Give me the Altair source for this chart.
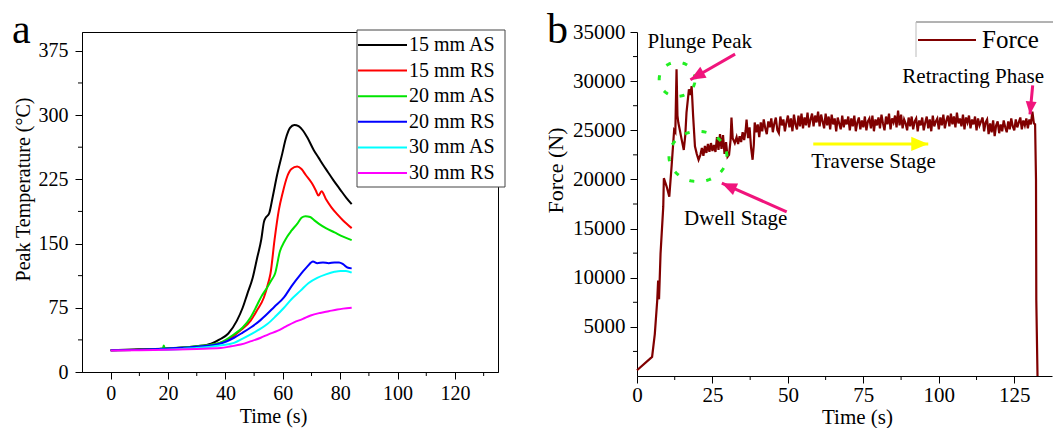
import math
import numpy as np
import pandas as pd
import altair as alt

FONT = "Liberation Serif"

# ---------------- Panel a : peak temperature ----------------
series_names = ["15 mm AS", "15 mm RS", "20 mm AS", "20 mm RS", "30 mm AS", "30 mm RS"]
series_colors = ["#000000", "#ff0000", "#00e400", "#0000ff", "#00ffff", "#ff00ff"]

t_15as = [0, 10, 20, 30, 35, 38, 41, 44, 46, 47.6, 49.5, 51.1, 52.5, 53.4, 54, 55.2, 56.5, 58, 59.8, 61,
          62.5, 64, 65.5, 67, 68.5, 70.8, 72.5, 74, 75.8, 77.6, 80, 82, 84]
T_15as = [25.5, 26.5, 27.5, 30, 33, 38, 45, 60, 75, 91, 110, 134, 155, 175, 180, 185, 205, 230, 255, 272,
          285, 288.5, 287, 282, 274, 259, 250, 242, 233, 224, 213, 204, 196]

t_15rs = [0, 10, 20, 30, 38, 42, 45, 48.8, 51, 53.4, 55, 55.7, 57.1, 58.6, 60, 61.5, 63, 65, 66.5, 68,
          70.2, 71.5, 72.4, 73.5, 75, 77, 79, 81, 84]
T_15rs = [25.5, 26, 27.5, 29.5, 34, 40, 48, 60, 72, 87, 105, 115, 154, 189, 210, 228, 237, 240, 237, 230,
          220, 212, 206, 211, 202, 192, 184, 177, 168]

t_20as = [0, 10, 18.2, 18.5, 18.8, 25, 30, 38, 43, 46, 48.8, 51, 52.5, 54.6, 56, 57.3, 59, 60.5, 61.5, 63,
          65, 66.5, 67.9, 69.5, 71, 72.6, 75, 78, 81, 84]
T_20as = [25.5, 26, 27.5, 31, 27.8, 28.5, 30, 34, 44, 52, 64, 78, 88, 99, 107, 115, 141, 152, 158, 165,
          173, 180, 182, 181, 177, 173, 168, 163, 158, 154]

t_20rs = [0, 10, 20, 30, 38, 43, 46, 48.8, 52, 54.6, 57, 60.4, 63, 66.2, 68.5, 70.5, 72, 74, 76, 78,
          79.6, 81, 82.5, 84]
T_20rs = [25.5, 26, 27.5, 29.5, 33, 40, 46, 52, 60, 68, 76, 87, 100, 114, 123, 129, 127, 128, 127, 128,
          128, 126, 122, 121]

t_30as = [17, 25, 30, 38, 43, 46, 48.8, 52, 54.6, 57.5, 60.4, 63, 66.2, 69, 72, 75, 78, 80.1, 82, 84]
T_30as = [26, 27, 28, 31, 34, 39, 44, 50, 56, 65, 75, 85, 95, 104, 110, 114, 117, 118, 118, 116]

t_30rs = [0, 10, 20, 30, 38.3, 42, 45.3, 49, 52.3, 55, 58.1, 61, 63.9, 67, 69.7, 73, 76, 79, 81, 84]
T_30rs = [25, 25.5, 26, 27, 28, 30, 32, 36, 40, 44, 48, 53, 58, 62, 66, 69, 71, 73, 74, 75]

left_x_major = [0, 20, 40, 60, 80, 100, 120]
left_x_minor = [10, 30, 50, 70, 90, 110, 130]
left_y_major = [0, 75, 150, 225, 300, 375]
left_y_minor = [37.5, 112.5, 187.5, 262.5, 337.5]

# ---------------- Panel b : force ----------------
force_t_head = [0, 5, 5.9, 6.7, 7.0, 7.3, 7.8, 8.7, 8.9, 9.8,
                10.7, 11.5, 12.0, 12.3, 12.7, 13.1, 13.4, 13.7, 14.2, 14.8,
                15.5, 16.0, 16.4, 17.2, 17.7, 18.1, 18.6, 19.2, 19.8, 20.4,
                21, 21.5, 22, 22.5, 23, 23.5, 24, 24.5, 25, 25.5,
                26, 26.5, 27, 27.5, 28, 28.5, 29, 29.5, 30, 30.5,
                31.0, 31.3, 31.7, 32.4, 33, 33.5, 34, 34.5, 35, 35.5,
                36, 36.3, 36.8, 37.3, 37.8, 38.3, 38.7, 39.0, 39.5, 40]
force_F_head = [580, 1950, 4270, 7680, 9700, 7800, 12450, 17230, 20130, 19300,
                18250, 21500, 23700, 25000, 24800, 31200, 26500, 25760, 25000, 24050,
                23000, 24500, 26800, 29170, 28600, 29500, 26440, 23370, 22600, 22000,
                22500, 23200, 22400, 23400, 22700, 23600, 22800, 23700, 22900, 23500,
                22800, 24300, 23000, 24600, 23100, 24500, 22600, 23800, 22300, 22500,
                24000, 26300, 24200, 23700, 24300, 23600, 24400, 23800, 24800, 24000,
                25000, 26100, 24200, 25300, 23200, 22000, 23500, 25800, 24800, 25600]
# traverse stage, read every 0.5 s starting at 40.5 s
force_F_traverse = [
    24300, 25800, 24900, 26100, 25200, 24600, 25900, 25300, 26200, 24800,
    25700, 26300, 25000, 24700, 26400, 25500, 26100, 24900, 25800, 26500,
    25300, 26200, 24900, 26600, 25600, 25100, 26500, 25400, 26700, 25200,
    26300, 25500, 26800, 25300, 26100, 26700, 25400, 26500, 25800, 26900,
    25400, 26600, 25900, 25200, 26700, 25500, 26400, 25100, 26600, 25600,
    26200, 24900, 26300, 25700, 25100, 26500, 25300, 26100, 25600, 26400,
    25000, 26200, 25400, 26500, 24900, 25800, 26300, 25100, 26000, 25300,
    26400, 25000, 25900, 26200, 25200, 26500, 24900, 26100, 25500, 26300,
    25200, 26600, 25700, 25000, 26400, 25600, 26700, 25100, 26200, 25800,
    26500, 25300, 27000, 25500, 26600, 25200, 26100, 25700, 25000, 26300,
    25400, 26400, 25100, 25900, 26200, 24900, 26000, 25500, 26300, 25000,
    25800, 26400, 25200, 26100, 24900, 26500, 25400, 25900, 26200, 25100,
    26300, 25500, 26600, 25200, 26000, 26500, 25400, 26700, 25600, 26400,
    25300, 26800, 25700, 26200, 25400, 26600, 25100, 26300, 25800, 26500,
    25200, 26100, 25600, 26400, 25000, 26200, 25500, 25900, 26300, 24900,
    25800, 26100, 24600, 25700, 24800, 26000, 24400, 25500, 25900, 24700,
    25600, 24900, 26000, 25300, 24800, 25900, 25100, 26200, 25400, 25000,
    26100, 25300, 25800, 26300, 25100, 26000, 25500, 26200, 25200, 26100,
    25600, 26900, 25700]
force_t_tail = [131.9, 132.2, 132.3, 132.7]
force_F_tail = [25600, 19960, 7700, 0]

right_x_major = [0, 25, 50, 75, 100, 125]
right_x_minor = [12.5, 37.5, 62.5, 87.5, 112.5]
right_y_major = [5000, 10000, 15000, 20000, 25000, 30000, 35000]
right_y_minor = [2500, 7500, 12500, 17500, 22500, 27500, 32500]

annot_text = ["Plunge Peak", "Dwell Stage", "Traverse Stage", "Retracting Phase"]
annot_t = [20.8, 32.7, 78.4, 111.4]
annot_F = [33980, 15965, 21800, 30430]

arrow_start_t = [32.5, 49.6, 58.4, 131.1]
arrow_start_F = [32750, 16710, 23610, 29580]
arrow_tip_t = [17.7, 28.1, 96.5, 130.2]
arrow_tip_F = [30140, 19620, 23610, 26610]
arrow_color = ["#f0147c", "#f0147c", "#ffff00", "#f0147c"]
arrow_head_len = [15, 15, 17, 13]

ellipse_center_t = [13.3, 20.2]
ellipse_center_F = [30190, 22340]
ellipse_radius_t = [5.95, 9.6]
ellipse_radius_F = [1740, 2560]

panel_labels = ["a", "b"]

# ---------------- sizes ----------------
LW, LH = 416, 340
RW, RH = 415, 344
LX = [-10, 135]
LY = [0, 397]
RX = [0, 137.5]
RY = [0, 35000]
MINOR = 4

# ================= left panel =================
rows = []
for name, ts, vs in zip(series_names,
                        [t_15as, t_15rs, t_20as, t_20rs, t_30as, t_30rs],
                        [T_15as, T_15rs, T_20as, T_20rs, T_30as, T_30rs]):
    for a, b in zip(ts, vs):
        rows.append({"series": name, "t": a, "T": b})
temp_df = pd.DataFrame(rows)

xL = alt.X("t:Q", scale=alt.Scale(domain=LX, nice=False, zero=False),
           axis=alt.Axis(values=left_x_major, format="d", tickSize=7,
                         labelPadding=4, labelOverlap=False, labelFlush=False, labelFontSize=20,
                         title="Time (s)", titleFontSize=20, titleX=191, titleY=50,
                         titleBaseline="alphabetic", titleAlign="center"))
yL = alt.Y("T:Q", scale=alt.Scale(domain=LY, nice=False, zero=False),
           axis=alt.Axis(values=left_y_major, format="d", tickSize=7,
                         labelPadding=7, labelOverlap=False, labelFlush=False, labelFontSize=20,
                         title="Peak Temperature (°C)", titleFontSize=20, titleX=-59, titleY=157,
                         titleAngle=270, titleBaseline="middle", titleAlign="center"))

temp_lines = alt.Chart(temp_df).mark_line(interpolate="monotone", strokeWidth=2).encode(
    x=xL, y=yL,
    color=alt.Color("series:N", scale=alt.Scale(domain=series_names, range=series_colors), legend=None),
)

lx_minor = alt.Chart(pd.DataFrame({"t": left_x_minor})).mark_rule(color="black", strokeWidth=1).encode(
    x=xL, y=alt.value(LH), y2=alt.value(LH + MINOR))
ly_minor = alt.Chart(pd.DataFrame({"T": left_y_minor})).mark_rule(color="black", strokeWidth=1).encode(
    y=yL, x=alt.value(0), x2=alt.value(-MINOR))

legend_box = alt.Chart(alt.Data(values=[{}])).mark_rect(fill="white", stroke="#444", strokeWidth=1).encode(
    x=alt.value(275), x2=alt.value(423), y=alt.value(-2), y2=alt.value(155))

leg_df = pd.DataFrame({"name": series_names, "color": series_colors,
                       "ly": [13 + 25.6 * i for i in range(len(series_names))]})
legend_rules = alt.Chart(leg_df).mark_rule(strokeWidth=2).encode(
    x=alt.value(276), x2=alt.value(325), y=alt.Y("ly:Q", scale=None),
    color=alt.Color("color:N", scale=None))
legend_text = alt.Chart(leg_df).mark_text(font=FONT, fontSize=20, align="left", baseline="middle",
                                          color="black").encode(
    x=alt.value(327), y=alt.Y("ly:Q", scale=None), text="name:N")

a_label = alt.Chart(pd.DataFrame({"label": [panel_labels[0]]})).mark_text(
    font=FONT, fontSize=42, align="left", baseline="alphabetic", color="black").encode(
    x=alt.value(-70), y=alt.value(11), text="label:N")

left = alt.layer(temp_lines, lx_minor, ly_minor, legend_box, legend_rules, legend_text, a_label).properties(
    width=LW, height=LH, view=alt.ViewBackground(stroke="black", strokeWidth=1))

# ================= right panel =================
trav_t = [40.5 + 0.5 * i for i in range(len(force_F_traverse))]
force_df = pd.DataFrame({"t": force_t_head + trav_t + force_t_tail,
                         "F": force_F_head + force_F_traverse + force_F_tail})

xR = alt.X("t:Q", scale=alt.Scale(domain=RX, nice=False, zero=False),
           axis=alt.Axis(values=right_x_major, format="d", tickSize=7,
                         labelPadding=1, labelOverlap=False, labelFlush=False, labelFontSize=21,
                         title="Time (s)", titleFontSize=21, titleX=220, titleY=47,
                         titleBaseline="alphabetic", titleAlign="center"))
yR = alt.Y("F:Q", scale=alt.Scale(domain=RY, nice=False, zero=False),
           axis=alt.Axis(values=right_y_major, format="d", tickSize=7,
                         labelPadding=5, labelOverlap=False, labelFlush=False, labelFontSize=21,
                         title="Force (N)", titleFontSize=22, titleX=-82, titleY=138,
                         titleAngle=270, titleBaseline="middle", titleAlign="center"))

force_line = alt.Chart(force_df).mark_line(color="#800000", strokeWidth=2.2).encode(x=xR, y=yR)

rx_minor = alt.Chart(pd.DataFrame({"t": right_x_minor})).mark_rule(color="black", strokeWidth=1).encode(
    x=xR, y=alt.value(RH), y2=alt.value(RH + MINOR))
ry_minor = alt.Chart(pd.DataFrame({"F": right_y_minor})).mark_rule(color="black", strokeWidth=1).encode(
    y=yR, x=alt.value(0), x2=alt.value(-MINOR))

# dashed ellipses
ell_rows = []
theta = np.linspace(0, 2 * math.pi, 97)
for k in range(len(ellipse_center_t)):
    for i, th in enumerate(theta):
        ell_rows.append({"id": k, "i": i,
                         "t": ellipse_center_t[k] + ellipse_radius_t[k] * math.cos(th),
                         "F": ellipse_center_F[k] + ellipse_radius_F[k] * math.sin(th)})
ell_df = pd.DataFrame(ell_rows)
ellipses = alt.Chart(ell_df).mark_line(color="#22ee22", strokeWidth=3, strokeDash=[5, 12]).encode(
    x=xR, y=yR, detail="id:N", order="i:Q")

# arrows
sx = RW / (RX[1] - RX[0])
sy = RH / (RY[1] - RY[0])
shaft_rows, head_rows = [], []
for k in range(len(arrow_start_t)):
    shaft_rows.append({"id": k, "i": 0, "t": arrow_start_t[k], "F": arrow_start_F[k], "col": arrow_color[k]})
    shaft_rows.append({"id": k, "i": 1, "t": arrow_tip_t[k], "F": arrow_tip_F[k], "col": arrow_color[k]})
    dx = (arrow_tip_t[k] - arrow_start_t[k]) * sx
    dy = -(arrow_tip_F[k] - arrow_start_F[k]) * sy
    ang = math.degrees(math.atan2(dx, -dy)) % 360
    head_rows.append({"t": arrow_tip_t[k], "F": arrow_tip_F[k], "col": arrow_color[k],
                      "angle": ang, "size": (2 * arrow_head_len[k]) ** 2})
shaft_df = pd.DataFrame(shaft_rows)
head_df = pd.DataFrame(head_rows)

shafts = alt.Chart(shaft_df).mark_line(strokeWidth=3).encode(
    x=xR, y=yR, detail="id:N", order="i:Q", color=alt.Color("col:N", scale=None))
heads = alt.Chart(head_df).mark_point(shape="M0,0L0.42,1L-0.42,1Z", filled=True, opacity=1,
                                       strokeWidth=0).encode(
    x=xR, y=yR, color=alt.Color("col:N", scale=None),
    angle=alt.Angle("angle:Q", scale=None), size=alt.Size("size:Q", scale=None))

annot_df = pd.DataFrame({"text": annot_text, "t": annot_t, "F": annot_F})
annots = alt.Chart(annot_df).mark_text(font=FONT, fontSize=21, align="center", baseline="middle",
                                       color="black").encode(x=xR, y=yR, text="text:N")

# legend of panel b
one = alt.Data(values=[{}])
leg_top = alt.Chart(one).mark_rule(color="#666", strokeWidth=1).encode(
    x=alt.value(279), x2=alt.value(416), y=alt.value(-10))
leg_left = alt.Chart(one).mark_rule(color="#bbb", strokeWidth=1).encode(
    x=alt.value(279), y=alt.value(-10), y2=alt.value(25))
leg_sample = alt.Chart(one).mark_rule(color="#800000", strokeWidth=2).encode(
    x=alt.value(281), x2=alt.value(339), y=alt.value(8))
leg_force = alt.Chart(pd.DataFrame({"label": ["Force"]})).mark_text(
    font=FONT, fontSize=25, align="left", baseline="middle", color="black").encode(
    x=alt.value(345), y=alt.value(8), text="label:N")

b_label = alt.Chart(pd.DataFrame({"label": [panel_labels[1]]})).mark_text(
    font=FONT, fontSize=42, align="left", baseline="alphabetic", color="black").encode(
    x=alt.value(-90), y=alt.value(11), text="label:N")

right = alt.layer(force_line, rx_minor, ry_minor, ellipses, shafts, heads, annots, leg_top, leg_left,
                  leg_sample, leg_force, b_label).properties(
    width=RW, height=RH, view=alt.ViewBackground(stroke="transparent", strokeWidth=0))

chart = alt.hconcat(left, right, spacing=139, bounds="flush").properties(
    autosize=alt.AutoSizeParams(type="none"),
    padding={"left": 82, "top": 32, "right": 1053 - 82, "bottom": 428 - 32},
    background="white",
).configure_view(strokeWidth=0).configure_axis(
    labelFont=FONT, titleFont=FONT, labelColor="black", titleColor="black",
    domainColor="black", tickColor="black", domainWidth=1, tickWidth=1,
    grid=False, titleFontWeight="normal",
).configure_text(font=FONT)

chart.save("out.html", embed_options={"renderer": "svg", "actions": False})
